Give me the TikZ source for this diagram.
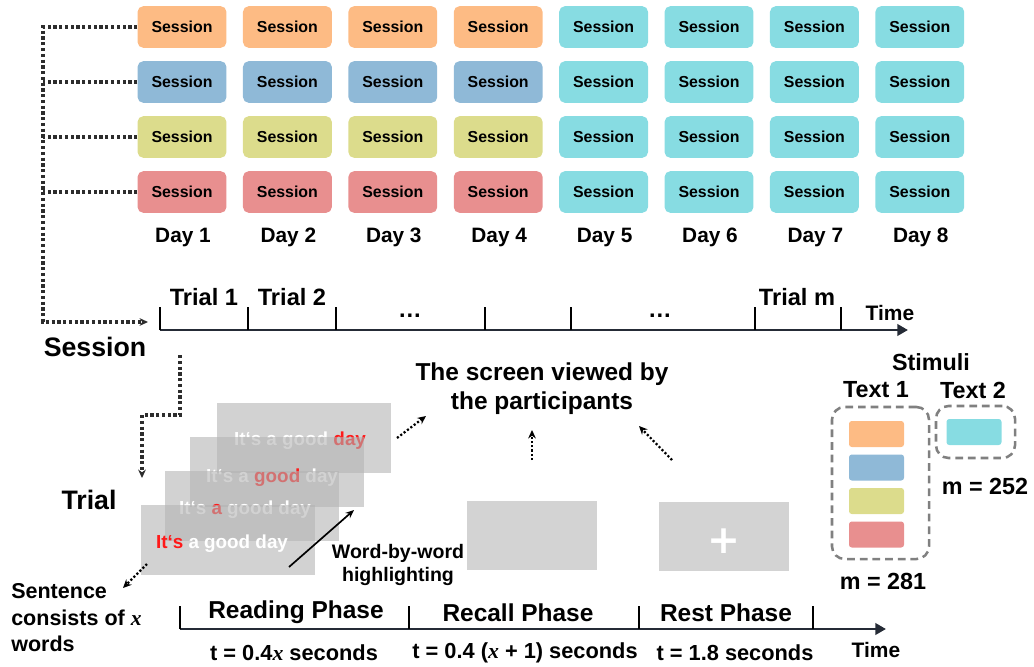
\documentclass[tikz,border=0pt]{standalone}
\usepackage{fontspec}
\setmainfont{Liberation Sans}
\newfontfamily\xfont{Liberation Serif}
\newfontfamily\plusfont{DejaVu Sans}
\usetikzlibrary{positioning, arrows.meta}

\definecolor{sorange}{RGB}{253,187,132}
\definecolor{sblue}{RGB}{143,185,215}
\definecolor{solive}{RGB}{220,220,140}
\definecolor{sred}{RGB}{232,143,143}
\definecolor{scyan}{RGB}{135,220,226}
\definecolor{dotgray}{RGB}{45,45,45}
\definecolor{axisc}{RGB}{37,43,54}
\definecolor{scrgray}{RGB}{211,211,211}
\definecolor{hired}{RGB}{255,25,25}
\definecolor{dashg}{RGB}{128,128,128}

\newcommand{\vx}{{\xfont\bfseries\itshape x}}

\begin{document}
\begin{tikzpicture}[x=0.025cm, y=-0.025cm,
  sess/.style = {rounded corners=4pt, minimum width=2.22cm, minimum height=1.04cm, inner sep=0pt, font=\fontsize{11.3}{13}\selectfont\bfseries},
  daylbl/.style = {font=\fontsize{14.8}{17}\selectfont\bfseries},
  triallbl/.style = {font=\fontsize{16.8}{20}\selectfont\bfseries},
  biglbl/.style = {font=\fontsize{19}{23}\selectfont\bfseries},
  timelbl/.style = {font=\fontsize{14.9}{18}\selectfont\bfseries},
  titlelbl/.style = {align=center, font=\fontsize{17.4}{20.6}\selectfont\bfseries},
  phaselbl/.style = {font=\fontsize{17.4}{20}\selectfont\bfseries},
  durlbl/.style = {font=\fontsize{15.5}{18}\selectfont\bfseries},
  stimlbl/.style = {font=\fontsize{16.6}{20}\selectfont\bfseries},
  wordlbl/.style = {align=center, font=\fontsize{13.9}{17}\selectfont\bfseries},
  sentlbl/.style = {align=left, inner sep=0pt, anchor=west, font=\fontsize{15.3}{18.8}\selectfont\bfseries},
  scrn/.style = {fill=gray!60, fill opacity=0.58, minimum width=4.35cm, minimum height=1.725cm, inner sep=0pt},
  scrtxt/.style = {text=white, font=\fontsize{13.4}{16}\selectfont\bfseries},
  scrnb/.style = {fill=scrgray, minimum width=3.25cm, minimum height=1.725cm, inner sep=0pt},
  chip/.style = {rounded corners=2pt, minimum width=1.375cm, minimum height=0.65cm, inner sep=0pt},
  dbox/.style = {draw=dashg, line width=1.8pt, dash pattern=on 5.5pt off 3.5pt, rounded corners=9pt, inner sep=0pt},
  dotln/.style = {dotgray, line width=2.3pt, dash pattern=on 2.3pt off 1.8pt, >={Stealth[length=6pt, width=5.5pt]}},
  dotsm/.style = {black, line width=1.6pt, dash pattern=on 1.5pt off 1.5pt, >={Stealth[length=6pt, width=5.5pt]}},
  axisln/.style = {axisc, line width=2.1pt, >={Stealth[length=7.5pt, width=8pt, inset=0pt]}},
  tickln/.style = {black, line width=2pt}]
\useasboundingbox (0,0) rectangle (1034,666);

% sessions per day
\foreach \r/\col/\y in {1/sorange/27, 2/sblue/82, 3/solive/137, 4/sred/192}{
  \foreach \d in {1,...,8}{
    \ifnum\d>4 \def\fc{scyan}\else\def\fc{\col}\fi
    \node[sess, fill=\fc] (s\r\d) at ({182+105.4*(\d-1)},\y) {Session};
  }
}
\foreach \d in {1,...,8}
  \node[daylbl] (day\d) at ({183+105.4*(\d-1)},237) {Day \d};

\coordinate (corner) at (43,322);
\coordinate (sessin) at (148,322);
\draw[dotln, ->] (s11.west) -| (corner) -- (sessin);
\foreach \r in {2,3,4}
  \draw[dotln] (s\r1.west) -- (s\r1.west -| corner);

% session time line
\coordinate (ax0) at (160,330);
\coordinate (ax1) at (908,330);
\draw[axisln, ->] (ax0) -- (ax1);
\foreach \x in {160,248,336,485,571,755,841}
  \draw[tickln] (\x,330) -- (\x,307);

\node[triallbl] (trial1) at (204,297) {Trial 1};
\node[triallbl] (trial2) at (292,297) {Trial 2};
\node[triallbl] (dots1)  at (410,316) {…};
\node[triallbl] (dots2)  at (660,316) {…};
\node[triallbl] (trialm) at (797,297) {Trial m};
\node[timelbl]  (time1)  at (890,313) {Time};
\node[biglbl]   (sesslbl) at (95,347) {Session};

\coordinate (tr0) at (180,355);
\coordinate (tr1) at (142,478);
\draw[dotln, ->] (tr0) -- ++(0,60) -| (tr1);
\node[biglbl] (triallbl) at (89,500) {Trial};

% reading screens
\node[scrn] (scr4) at (304,438) {};
\node[scrtxt] (w4) at (300,441) {It‘s a good \textcolor{hired}{day}};
\node[scrn] (scr3) at (277,472) {};
\node[scrtxt] (w3) at (272,478) {It‘s a \textcolor{hired}{good} day};
\node[scrn] (scr2) at (252,506) {};
\node[scrtxt] (w2) at (245,510) {It‘s \textcolor{hired}{a} good day};
\node[scrn] (scr1) at (228,540) {};
\node[scrtxt] (w1) at (222,544) {\textcolor{hired}{It‘s} a good day};

\node[scrnb] (recall) at (532,535.5) {};
\node[scrnb] (rest) at (724,536.5) {};
\node[text=white, font=\fontsize{28}{28}\selectfont\plusfont\bfseries] (plus) at (724,541) {+};

\node[titlelbl] (viewlbl) at (542,389) {The screen viewed by\\the participants};
\coordinate (v0) at (397,438);
\coordinate (v1) at (426,416);
\coordinate (v2) at (532,460);
\coordinate (v3) at (532,430);
\coordinate (v4) at (672,460);
\coordinate (v5) at (639,426);
\draw[dotsm, ->] (v0) -- (v1);
\draw[dotsm, ->] (v2) -- (v3);
\draw[dotsm, ->] (v4) -- (v5);

\coordinate (h0) at (289,567);
\coordinate (h1) at (354,510);
\draw[-{Stealth[length=6pt, width=5pt]}, line width=1.2pt] (h0) -- (h1);
\node[wordlbl] (hllbl) at (398,565) {Word-by-word\\highlighting};

\coordinate (x0) at (147,564);
\coordinate (x1) at (123,588);
\draw[dotsm, ->] (x0) -- (x1);
\node[sentlbl] (sentlbl) at (11,618) {Sentence\\consists of \vx\\words};

% trial time line
\coordinate (bx0) at (180,629);
\coordinate (bx1) at (886,629);
\draw[axisln, ->] (bx0) -- (bx1);
\foreach \x in {180,409,639,813}
  \draw[tickln] (\x,629) -- (\x,606);

\node[phaselbl] (readlbl) at (296,612) {Reading Phase};
\node[phaselbl] (recllbl) at (518,613) {Recall Phase};
\node[phaselbl] (restlbl) at (726,613) {Rest Phase};
\node[timelbl]  (time2)   at (876,650) {Time};
\node[durlbl] (dur1) at (294,653) {t = 0.4\vx\ seconds};
\node[durlbl] (dur2) at (525,653) {t = 0.4 (\vx\ + 1) seconds};
\node[durlbl] (dur3) at (735,653) {t = 1.8 seconds};

% stimuli
\node[stimlbl] (stim)  at (931,362) {Stimuli};
\node[stimlbl] (text1) at (876,390) {Text 1};
\node[stimlbl] (text2) at (973,390) {Text 2};
\node[dbox, minimum width=2.425cm, minimum height=3.8cm] (box1) at (880.5,483) {};
\node[dbox, minimum width=1.975cm, minimum height=1.3cm] (box2) at (975.5,432) {};
\foreach \col/\y [count=\i] in {sorange/434, sblue/467.5, solive/501, sred/534.5}
  \node[chip, fill=\col] (chip\i) at (876.5,\y) {};
\node[chip, fill=scyan] (chip5) at (974,432) {};
\node[stimlbl] (m1) at (883,581) {m = 281};
\node[stimlbl] (m2) at (985,486) {m = 252};

\end{tikzpicture}
\end{document}
